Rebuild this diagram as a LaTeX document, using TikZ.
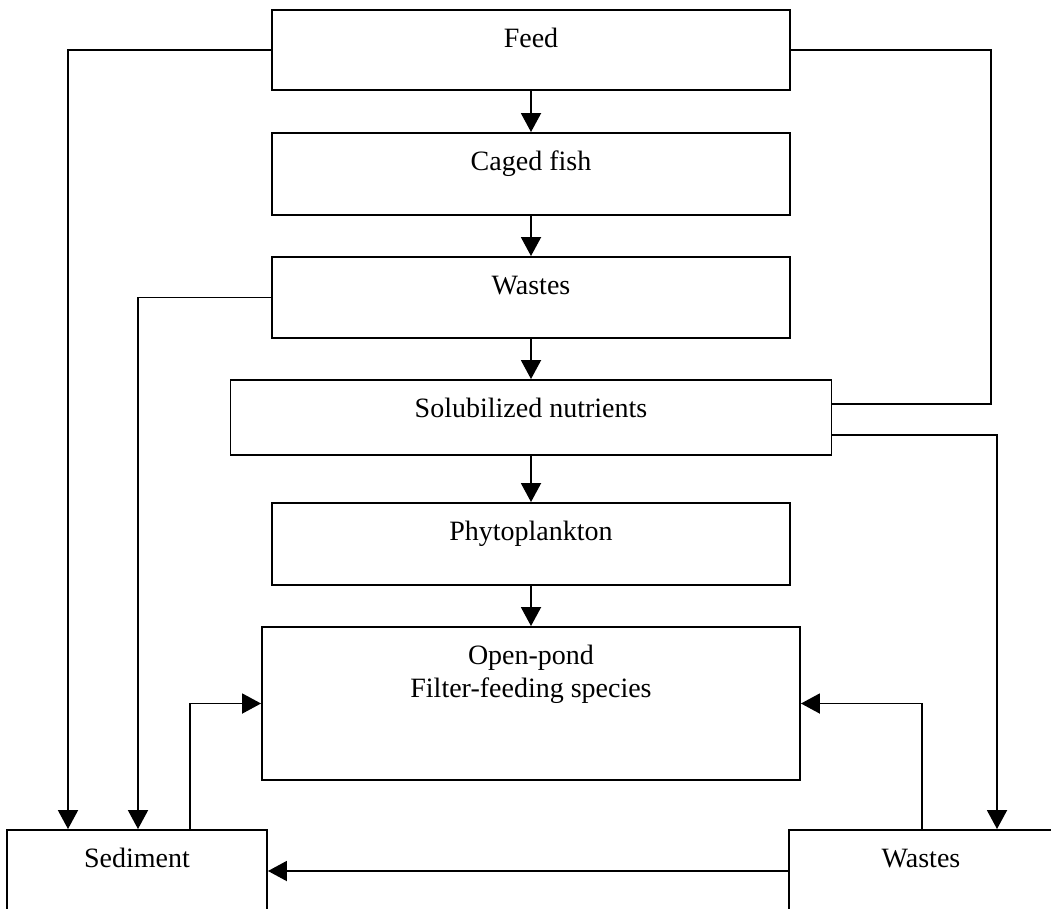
\documentclass[tikz,border=0pt]{standalone}
\usepackage{fontspec}
\setmainfont{Liberation Serif}
\usetikzlibrary{arrows.meta}
\begin{document}
\begin{tikzpicture}[x=1pt,y=-1pt,
  box/.style 2 args={draw, line width=1.9pt, inner sep=0pt, minimum width=#1, minimum height=#2},
  lbl/.style={font=\fontsize{28}{33}\selectfont, anchor=base, inner sep=0pt},
  ln/.style={line width=1.9pt},
  arr/.style={line width=1.9pt, -{Triangle[width=20pt,length=19pt]}}]
\useasboundingbox (0,0) rectangle (1051,909);
\clip (0,0) rectangle (1051,909);
\fill[white] (0,0) rectangle (1051,909);
% boxes
\node[box={518}{80}]  (feed)   at (531,50) {};
\node[box={518}{82}]  (caged)  at (531,174) {};
\node[box={518}{81}]  (wastes) at (531,297.5) {};
\node[box={601}{75}]  (sol)    at (531,417.5) {};
\node[box={518}{82}]  (phyto)  at (531,544) {};
\node[box={538}{153}] (pond)   at (531,703.5) {};
\node[box={260}{95}]  (sed)    at (137,877.5) {};
\node[box={264}{95}]  (wst2)   at (921,877.5) {};
% labels
\node[lbl] (tfeed)   at ([yshift=-38pt]feed.north) {Feed};
\node[lbl] (tcaged)  at ([yshift=-38pt]caged.north) {Caged fish};
\node[lbl] (twastes) at ([yshift=-38pt]wastes.north) {Wastes};
\node[lbl] (tsol)    at ([yshift=-38pt]sol.north) {Solubilized nutrients};
\node[lbl] (tphyto)  at ([yshift=-38pt]phyto.north) {Phytoplankton};
\node[lbl] (tpond1)  at ([yshift=-38pt]pond.north) {Open-pond};
\node[lbl] (tpond2)  at ([yshift=-71pt]pond.north) {Filter-feeding species};
\node[lbl] (tsed)    at ([yshift=-38pt]sed.north) {Sediment};
\node[lbl] (twst2)   at ([yshift=-38pt]wst2.north) {Wastes};
% main column
\draw[arr] (feed.south) -- (caged.north);
\draw[arr] (caged.south) -- (wastes.north);
\draw[arr] (wastes.south) -- (sol.north);
\draw[arr] (sol.south) -- (phyto.north);
\draw[arr] (phyto.south) -- (pond.north);
% side connectors
\coordinate (xa) at (68,0);
\coordinate (xb) at (138,0);
\coordinate (xc) at (190,0);
\coordinate (xd) at (922,0);
\coordinate (r1) at (991,404);
\coordinate (r2) at (997,435);
\coordinate (yb) at (0,871);
\draw[arr] (feed.west) -| (xa |- sed.north);
\draw[arr] (wastes.west) -| (xb |- sed.north);
\draw[ln] (feed.east) -| (r1) -- (r1 -| sol.east);
\draw[arr] (r2 -| sol.east) -| (r2 |- wst2.north);
\draw[arr] (xc |- sed.north) |- (pond.west);
\draw[arr] (xd |- wst2.north) |- (pond.east);
\draw[arr] (yb -| wst2.west) -- (yb -| sed.east);
\end{tikzpicture}
\end{document}
